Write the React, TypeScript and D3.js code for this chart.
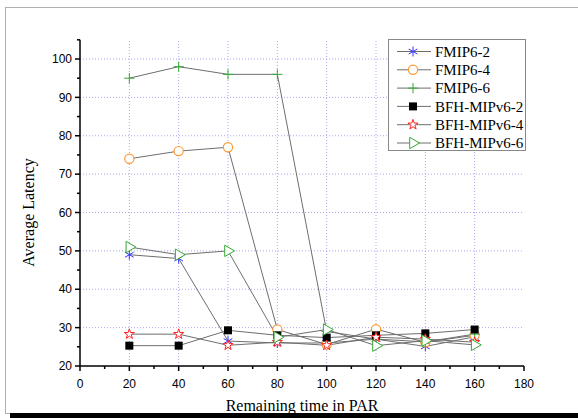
import React from 'react';
import * as d3 from 'd3';

const xValues = [20, 40, 60, 80, 100, 120, 140, 160];
const xTicks = [0, 20, 40, 60, 80, 100, 120, 140, 160, 180];
const yTicks = [20, 30, 40, 50, 60, 70, 80, 90, 100];

const fmip2 = [49, 48, 26.5, 26, 26, 27, 25.1, 27.6];
const fmip4 = [74, 76, 77, 29.5, 25.6, 29.6, 26.2, 28];
const fmip6 = [95, 98, 96, 96, 29, 27, 26.3, 28.3];
const bfh2 = [25.3, 25.3, 29.3, 28, 27.4, 28, 28.5, 29.5];
const bfh4 = [28.3, 28.3, 25.4, 26.2, 25.4, 27.5, 27, 26.2];
const bfh6 = [51, 49, 50, 27.5, 29.5, 25.3, 26.6, 25.5];

const series = [
  { name: 'FMIP6-2', values: fmip2, type: 'asterisk', color: '#3333ff' },
  { name: 'FMIP6-4', values: fmip4, type: 'circle', color: '#ff9933' },
  { name: 'FMIP6-6', values: fmip6, type: 'plus', color: '#33aa33' },
  { name: 'BFH-MIPv6-2', values: bfh2, type: 'square', color: '#000000' },
  { name: 'BFH-MIPv6-4', values: bfh4, type: 'star', color: '#ff2222' },
  { name: 'BFH-MIPv6-6', values: bfh6, type: 'triangle', color: '#33aa33' },
];

const W = 578;
const H = 418;

const x = d3.scaleLinear().domain([0, 180]).range([80, 524]);
const y = d3.scaleLinear().domain([20, 100]).range([366, 59]);

const Marker = ({ type, color, cx, cy }) => {
  const t = `translate(${cx},${cy})`;
  if (type === 'asterisk') {
    const p = d3.symbol(d3.symbolAsterisk, 70)();
    return <path d={p} transform={t} fill="none" stroke={color} strokeWidth={1} />;
  }
  if (type === 'plus') {
    const p = d3.symbol(d3.symbolPlus, 36)();
    return <path d={p} transform={t} fill="none" stroke={color} strokeWidth={1} />;
  }
  if (type === 'circle') {
    return <circle cx={cx} cy={cy} r={4.6} fill="white" stroke={color} strokeWidth={1.2} />;
  }
  if (type === 'square') {
    return <rect x={cx - 4} y={cy - 4} width={8} height={8} fill={color} />;
  }
  if (type === 'star') {
    const p = d3.symbol(d3.symbolStar, 32)();
    return <path d={p} transform={t} fill="white" stroke={color} strokeWidth={1} />;
  }
  const p = d3.symbol(d3.symbolTriangle, 56)();
  return <path d={p} transform={`${t} rotate(90)`} fill="white" stroke={color} strokeWidth={1} />;
};

export default function App() {
  const line = d3
    .line<number>()
    .x((d, i) => x(xValues[i]))
    .y((d) => y(d));

  const minorY = d3.range(25, 106, 10);
  const minorX = d3.range(10, 180, 20);

  const legendX = 388;
  const legendY = 39;
  const rowH = 18.3;

  return (
    <svg
      width={W}
      height={H}
      style={{ position: 'absolute', left: 0, top: 0, background: 'white' }}
    >
      {/* page frame */}
      <rect x={5.5} y={7.5} width={W} height={406} fill="none" stroke="#b0b0b0" strokeWidth={1} />
      <rect x={10} y={413} width={W} height={6} fill="#000" />

      {/* grid */}
      <g stroke="#a8a8f0" strokeWidth={1} strokeDasharray="1,2">
        {xTicks.slice(1, -1).map((t) => (
          <line key={'gx' + t} x1={x(t)} x2={x(t)} y1={y(20)} y2={y(105)} />
        ))}
        {yTicks.slice(1).map((t) => (
          <line key={'gy' + t} x1={x(0)} x2={x(180)} y1={y(t)} y2={y(t)} />
        ))}
      </g>

      {/* series lines */}
      {series.map((s) => (
        <path key={'l' + s.name} d={line(s.values)} fill="none" stroke="#6e6e6e" strokeWidth={1} />
      ))}

      {/* markers */}
      {series.map((s) =>
        s.values.map((v, i) => (
          <Marker key={s.name + i} type={s.type} color={s.color} cx={x(xValues[i])} cy={y(v)} />
        ))
      )}

      {/* axes */}
      <g stroke="#000" strokeWidth={1.5}>
        <line x1={x(0)} x2={x(0)} y1={y(105)} y2={y(20)} />
        <line x1={x(0)} x2={x(180)} y1={y(20)} y2={y(20)} />
        {yTicks.map((t) => (
          <line key={'yt' + t} x1={x(0) - 5} x2={x(0)} y1={y(t)} y2={y(t)} />
        ))}
        {minorY.map((t) => (
          <line key={'ym' + t} x1={x(0) - 3} x2={x(0)} y1={y(t)} y2={y(t)} />
        ))}
        {xTicks.map((t) => (
          <line key={'xt' + t} x1={x(t)} x2={x(t)} y1={y(20)} y2={y(20) + 5} />
        ))}
        {minorX.map((t) => (
          <line key={'xm' + t} x1={x(t)} x2={x(t)} y1={y(20)} y2={y(20) + 3} />
        ))}
      </g>

      <g fontFamily="Liberation Sans, Arial, sans-serif" fontSize={12} fill="#000">
        {yTicks.map((t) => (
          <text key={'yl' + t} x={x(0) - 8} y={y(t)} dy="0.35em" textAnchor="end">
            {t}
          </text>
        ))}
        {xTicks.map((t) => (
          <text key={'xl' + t} x={x(t)} y={y(20) + 18} dy="0.35em" textAnchor="middle">
            {t}
          </text>
        ))}
      </g>

      <g fontFamily="Liberation Serif, Times New Roman, serif" fontSize={16} fill="#000">
        <text x={302} y={411} textAnchor="middle">
          Remaining time in PAR
        </text>
        <text transform={`translate(34,${y(60)}) rotate(-90)`} textAnchor="middle">
          Average Latency
        </text>
      </g>

      {/* legend */}
      <rect x={legendX + 0.5} y={legendY + 0.5} width={137} height={111} fill="white" stroke="#888" strokeWidth={1} />
      {series.map((s, i) => {
        const cy = legendY + 12.5 + i * rowH;
        return (
          <g key={'lg' + s.name}>
            <line x1={legendX + 9} x2={legendX + 43} y1={cy} y2={cy} stroke="#6e6e6e" strokeWidth={1} />
            <Marker type={s.type} color={s.color} cx={legendX + 25} cy={cy} />
            <text
              x={legendX + 47}
              y={cy}
              dy="0.35em"
              fontFamily="Liberation Serif, Times New Roman, serif"
              fontSize={15}
            >
              {s.name}
            </text>
          </g>
        );
      })}
    </svg>
  );
}
